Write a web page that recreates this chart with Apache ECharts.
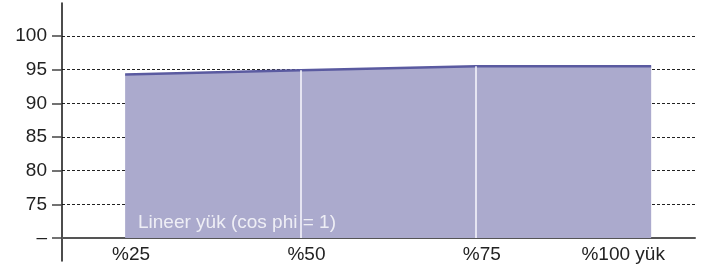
<!DOCTYPE html>
<html>
<head>
<meta charset="utf-8">
<script src="https://cdn.jsdelivr.net/npm/echarts@6/dist/echarts.min.js"></script>
<style>html,body{margin:0;padding:0;background:#fff}#c{width:711px;height:272px}</style>
</head>
<body>
<div id="c"></div>
<script>
const categories = ['%25', '%50', '%75', '%100 yük'];
const efficiency = [94.3, 94.9, 95.5, 95.5];
const yTickValues = [70, 75, 80, 85, 90, 95, 100];
const yTickLabels = ['–', '75', '80', '85', '90', '95', '100'];
const seriesLabel = 'Lineer yük (cos phi = 1)';

const FONT = '"Liberation Sans", Arial, Helvetica, sans-serif';
const xPos = categories.map((_, i) => i);
const chart = echarts.init(document.getElementById('c'), null, {renderer: 'canvas'});

const dividers = xPos.slice(1, -1).map(i => [
  {coord: [i, yTickValues[0]]},
  {coord: [i, efficiency[i]]}
]);

chart.setOption({
  animation: false,
  grid: [
    {left: 62, right: 16, top: 36, bottom: 34},
    {left: 62, right: 16, top: 3, bottom: 11}
  ],
  xAxis: [
    {
      gridIndex: 0, type: 'value', min: -0.36, max: 3.25,
      axisLine: {show: true, onZero: false, lineStyle: {color: '#555', width: 2}},
      axisTick: {show: false},
      splitLine: {show: false},
      axisLabel: {
        customValues: xPos,
        margin: 7,
        color: '#222', fontFamily: FONT, fontSize: 19,
        formatter: v => {
          const i = Math.round(v);
          return i === categories.length - 1 ? '{r|' + categories[i] + '}' : '{n|' + categories[i] + '}';
        },
        rich: {
          n: {color: '#222', fontFamily: FONT, fontSize: 19, padding: [0, 0, 0, 12]},
          r: {color: '#222', fontFamily: FONT, fontSize: 19, padding: [0, 56, 0, 0]}
        }
      }
    },
    {gridIndex: 1, type: 'value', show: false}
  ],
  yAxis: [
    {
      gridIndex: 0, type: 'value', min: 70, max: 100, interval: 5,
      axisLine: {show: false, onZero: false},
      axisTick: {show: true, length: 10, inside: false, lineStyle: {color: '#444', width: 1.5}},
      splitLine: {show: true, lineStyle: {color: '#222', type: [3, 2], width: 1}},
      axisLabel: {
        margin: 15, color: '#222', fontFamily: FONT, fontSize: 19,
        formatter: v => yTickLabels[yTickValues.indexOf(v)]
      }
    },
    {
      gridIndex: 1, type: 'value', min: 0, max: 1,
      axisLine: {show: true, onZero: false, lineStyle: {color: '#111', width: 1.5}},
      axisTick: {show: false}, axisLabel: {show: false}, splitLine: {show: false}
    }
  ],
  series: [{
    type: 'line',
    xAxisIndex: 0, yAxisIndex: 0,
    data: xPos.map(i => [i, efficiency[i]]),
    symbol: 'none',
    lineStyle: {color: '#5a5aa0', width: 2.5},
    areaStyle: {color: '#abaacd', opacity: 1, origin: 'start'},
    z: 1,
    markLine: {
      silent: true, symbol: 'none', label: {show: false},
      lineStyle: {color: 'rgba(240,240,248,0.85)', width: 2, type: 'solid'},
      data: dividers
    }
  }],
  graphic: [{
    type: 'text', left: 138, top: 213, z: 10,
    style: {text: seriesLabel, fill: 'rgba(255,255,255,0.8)', font: '19px ' + FONT}
  }]
});
</script>
</body>
</html>
